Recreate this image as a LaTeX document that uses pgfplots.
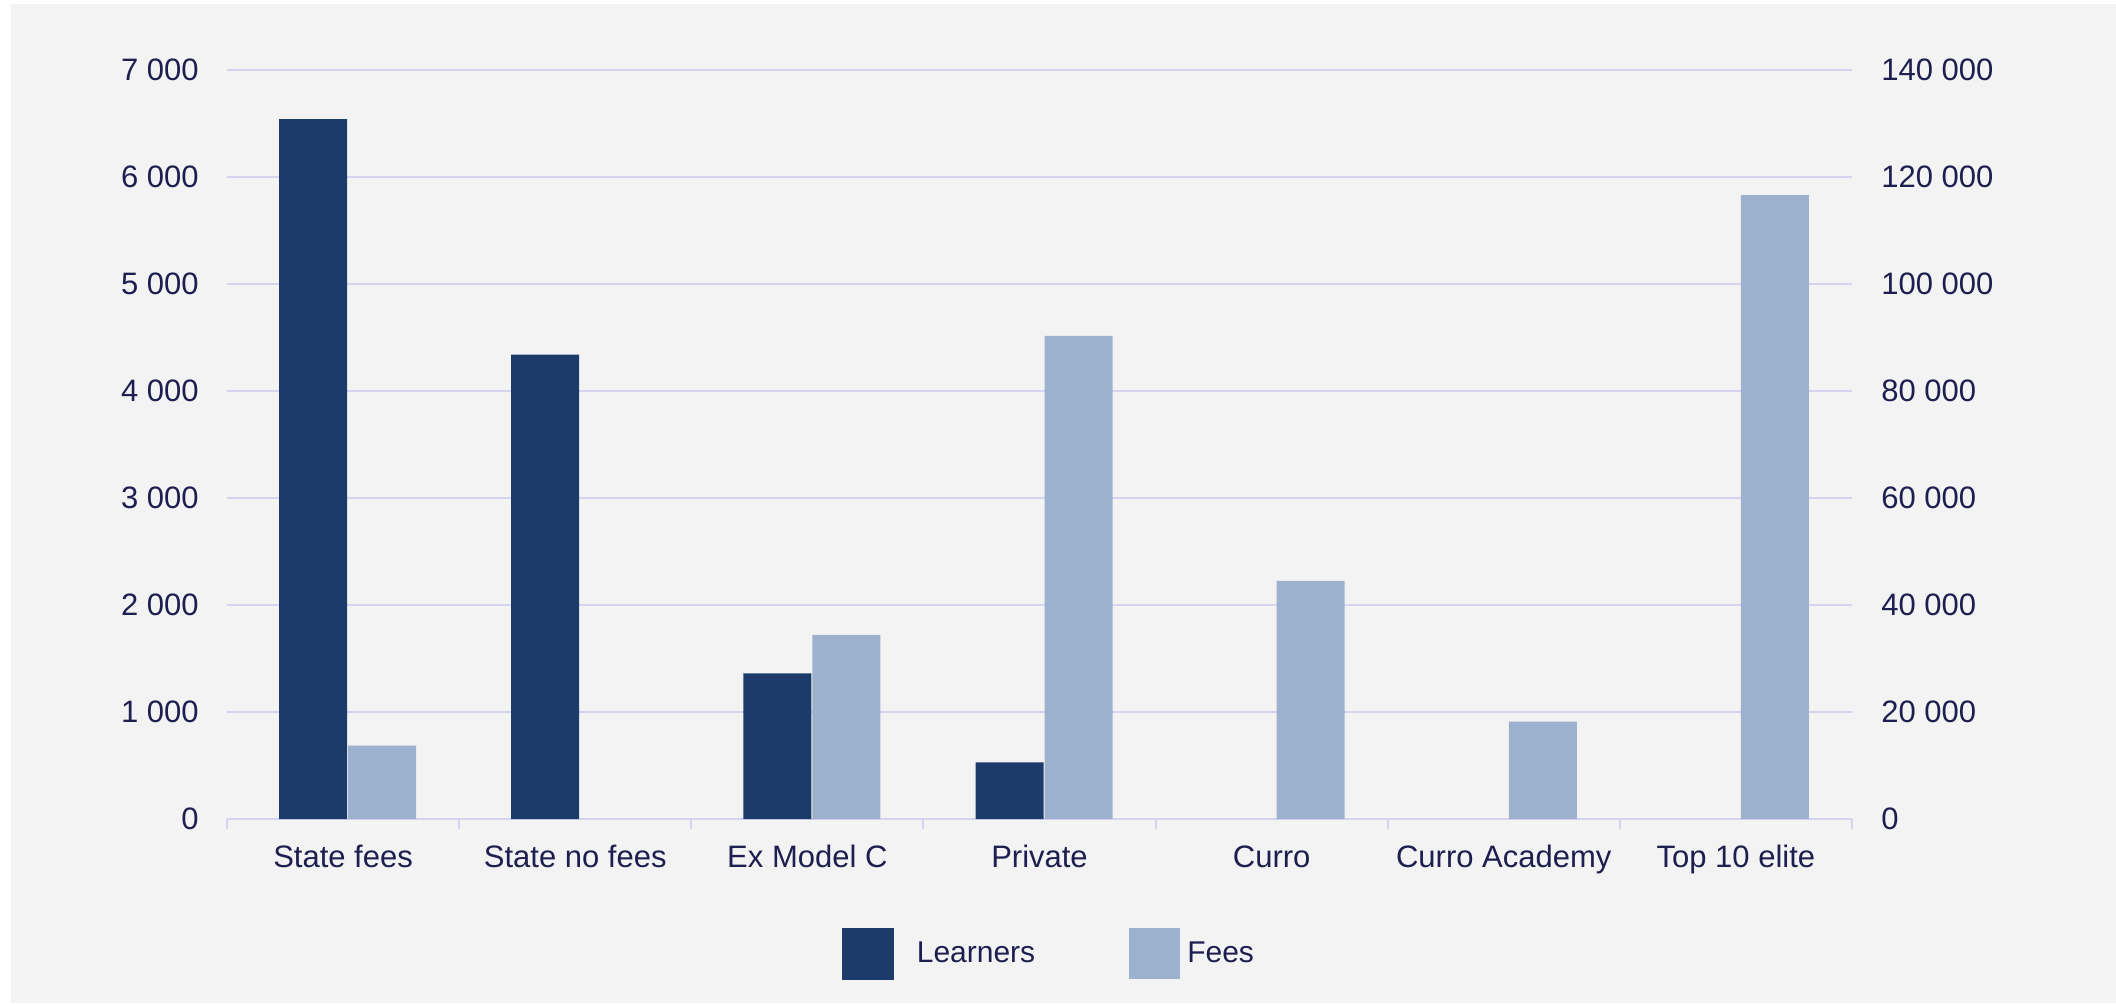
\documentclass[border=0pt]{standalone}
\usepackage{fontspec}
\setmainfont{Liberation Sans}
\usepackage{pgfplots}
\pgfplotsset{compat=1.18}
\definecolor{bg}{RGB}{243,243,243}
\definecolor{gridc}{RGB}{212,212,240}
\definecolor{learn}{RGB}{28,59,107}
\definecolor{fees}{RGB}{156,177,206}
\definecolor{txt}{RGB}{30,30,80}
\begin{document}
\begin{tikzpicture}
\path[use as bounding box] (0,0) rectangle (1058pt,501.5pt);
\fill[white] (0,0) rectangle (1058pt,501.5pt);
\fill[bg] (5.5pt,0) rectangle (1058pt,499.5pt);
\begin{axis}[
  at={(113.5pt,92pt)}, anchor=south west,
  width=812.5pt, height=374.5pt, scale only axis,
  xmin=-0.5, xmax=6.5, ymin=0, ymax=7000,
  axis x line*=bottom, axis y line*=left,
  x axis line style={draw=gridc, line width=1pt},
  y axis line style={draw=none},
  xtick={0,...,6},
  xticklabels={State fees, State no fees, Ex Model C, Private, Curro, Curro Academy, Top 10 elite},
  major tick length=0pt,
  minor xtick={-0.5,0.5,...,6.5},
  minor x tick style={draw=gridc, line width=1pt},
  minor tick length=5pt, tick align=outside,
  ytick={0,1000,...,7000},
  yticklabels={0,1 000,2 000,3 000,4 000,5 000,6 000,7 000},
  scaled y ticks=false,
  ytick style={draw=none},
  ymajorgrids, grid style={gridc, line width=1pt},
  ticklabel style={font=\fontsize{15.5}{18}\selectfont, text=txt},
  yticklabel style={inner sep=0pt, xshift=-14pt},
  xticklabel style={inner sep=0pt, yshift=-13pt},
  ybar, bar width=34pt,
]
\addplot[fill=learn, draw=none, bar shift=-15pt] coordinates {(0,6540) (1,4340) (2,1360) (3,530)};
\end{axis}
\begin{axis}[
  at={(113.5pt,92pt)}, anchor=south west,
  width=812.5pt, height=374.5pt, scale only axis,
  xmin=-0.5, xmax=6.5, ymin=0, ymax=140000,
  axis y line*=right, axis x line=none,
  y axis line style={draw=none},
  ytick={0,20000,...,140000},
  yticklabels={0,20 000,40 000,60 000,80 000,100 000,120 000,140 000},
  scaled y ticks=false,
  ytick style={draw=none}, major tick length=0pt,
  ticklabel style={font=\fontsize{15.5}{18}\selectfont, text=txt},
  yticklabel style={inner sep=0pt, xshift=14.5pt, anchor=west},
  ybar, bar width=34pt,
  legend columns=2,
  legend cell align=left,
  legend style={at={(0.3785,-0.1802)}, anchor=west, draw=none, fill=none,
    inner sep=0pt, outer sep=0pt, column sep=0pt,
    nodes={inner sep=0pt, text=txt, font=\fontsize{15}{18}\selectfont}},
]
\addlegendimage{legend image code/.code={\fill[learn] (0pt,-12.75pt) rectangle (25.5pt,12.75pt); \path (37pt,0pt);}}
\addlegendentry{Learners}
\addplot[fill=fees, draw=none, bar shift=19.5pt,
  legend image code/.code={\fill[fees] (0pt,-12.75pt) rectangle (25.5pt,12.75pt); \path (-47pt,0pt) (29pt,0pt);}]
  coordinates {(0,13700) (2,34400) (3,90300) (4,44500) (5,18200) (6,116600)};
\addlegendentry{Fees}
\end{axis}
\end{tikzpicture}
\end{document}
